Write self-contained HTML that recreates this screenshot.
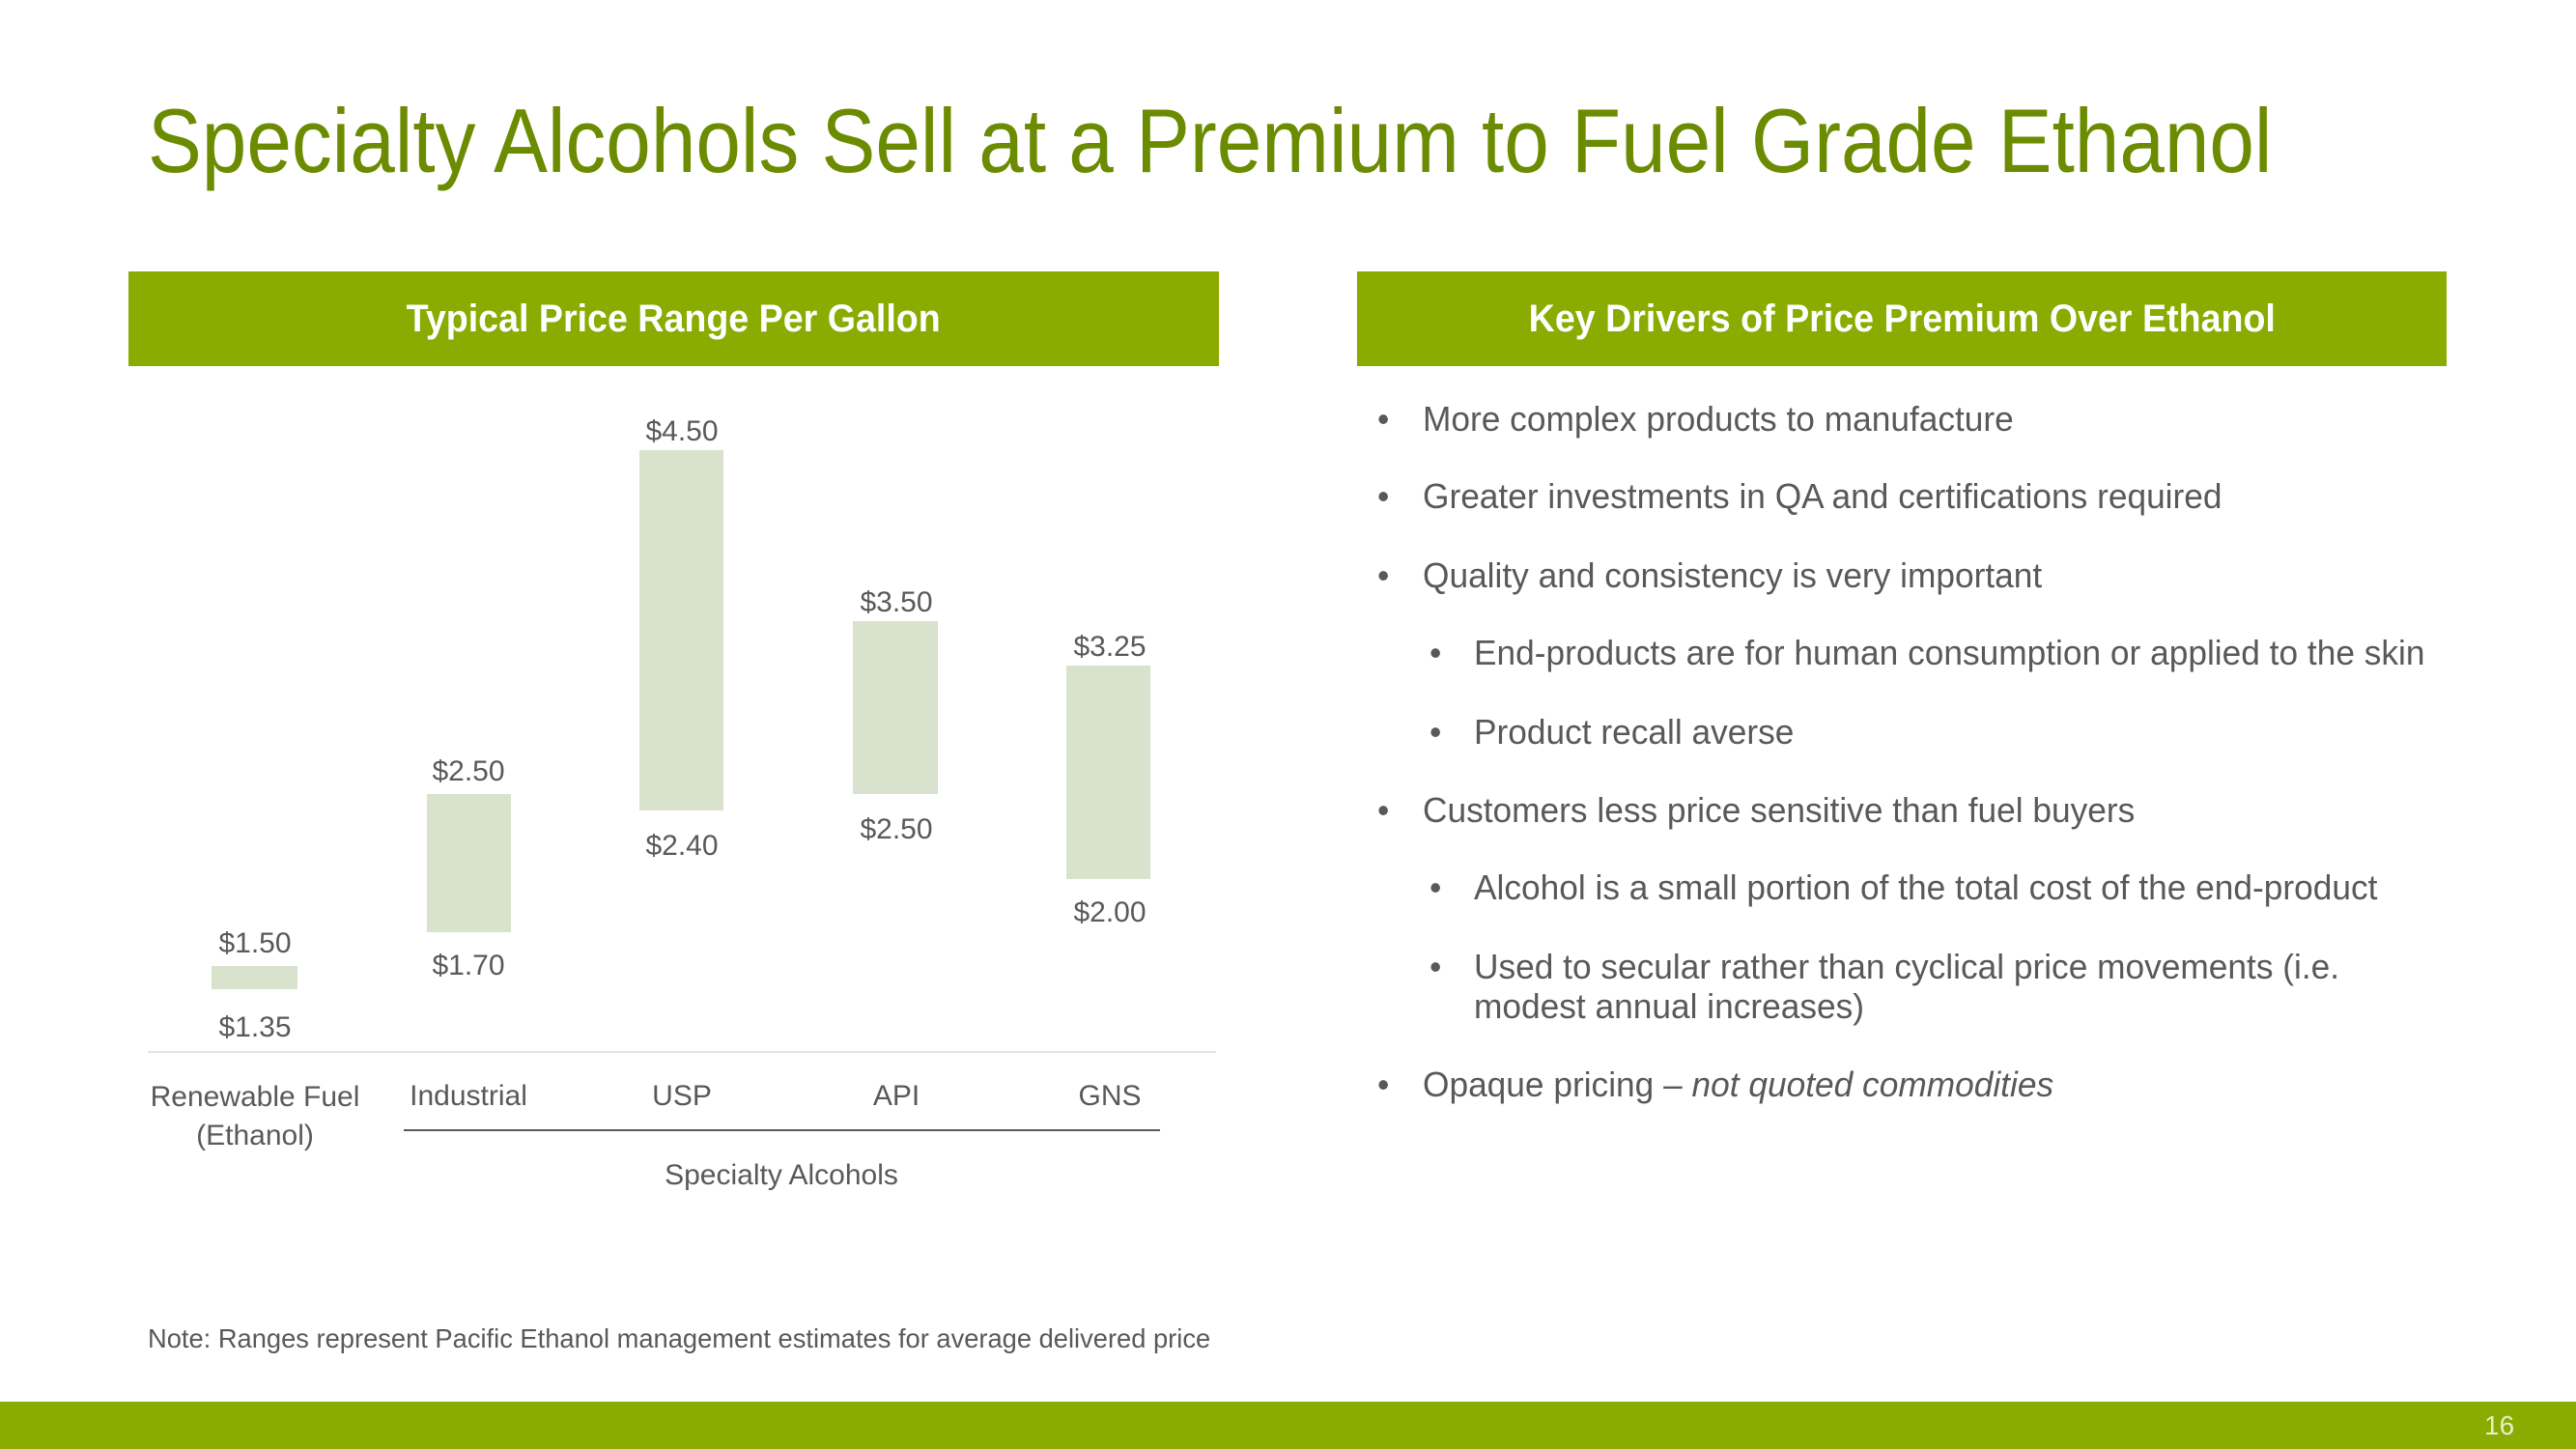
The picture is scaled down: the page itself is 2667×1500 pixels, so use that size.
<!DOCTYPE html>
<html><head><meta charset="utf-8"><style>
body{margin:0;width:2667px;height:1500px;background:#fff;position:relative;overflow:hidden;font-family:"Liberation Sans Narrow","Liberation Sans",sans-serif;color:#595959}
.a{position:absolute;white-space:nowrap}
.c{transform:translateX(-50%);text-align:center}
.bar{position:absolute;background:#d9e2cc}
.hdr{position:absolute;background:#8aab00;color:#fff;font-weight:bold;font-size:40px;text-align:center;line-height:98px;height:98px}
.hdr span{display:inline-block;transform:scaleX(0.94)}
.v{font-size:30px}
.b{font-size:36px;color:#595959;transform:scaleX(0.98);transform-origin:left}
</style></head><body>
<div class="a" style="left:153px;top:92px;font-size:94px;color:#6b8b00;transform:scaleX(0.89);transform-origin:left">Specialty Alcohols Sell at a Premium to Fuel Grade Ethanol</div>
<div class="hdr" style="left:133px;top:281px;width:1129px"><span>Typical Price Range Per Gallon</span></div>
<div class="hdr" style="left:1405px;top:281px;width:1128px"><span>Key Drivers of Price Premium Over Ethanol</span></div>

<div class="bar" style="left:219px;top:1000px;width:89px;height:24px"></div>
<div class="bar" style="left:442px;top:822px;width:87px;height:143px"></div>
<div class="bar" style="left:662px;top:466px;width:87px;height:373px"></div>
<div class="bar" style="left:883px;top:643px;width:88px;height:179px"></div>
<div class="bar" style="left:1104px;top:689px;width:87px;height:221px"></div>
<div class="a" style="left:153px;top:1088px;width:1106px;height:2px;background:#e4e4e4"></div>
<div class="a" style="left:418px;top:1169px;width:783px;height:2px;background:#595959"></div>

<div class="a c v" style="left:264px;top:960px">$1.50</div>
<div class="a c v" style="left:264px;top:1047px">$1.35</div>
<div class="a c v" style="left:485px;top:782px">$2.50</div>
<div class="a c v" style="left:485px;top:983px">$1.70</div>
<div class="a c v" style="left:706px;top:430px">$4.50</div>
<div class="a c v" style="left:706px;top:859px">$2.40</div>
<div class="a c v" style="left:928px;top:607px">$3.50</div>
<div class="a c v" style="left:928px;top:842px">$2.50</div>
<div class="a c v" style="left:1149px;top:653px">$3.25</div>
<div class="a c v" style="left:1149px;top:928px">$2.00</div>

<div class="a c v" style="left:264px;top:1116px;line-height:40px">Renewable Fuel<br>(Ethanol)</div>
<div class="a c v" style="left:485px;top:1118px">Industrial</div>
<div class="a c v" style="left:706px;top:1118px">USP</div>
<div class="a c v" style="left:928px;top:1118px">API</div>
<div class="a c v" style="left:1149px;top:1118px">GNS</div>
<div class="a c v" style="left:809px;top:1200px">Specialty Alcohols</div>
<div class="a" style="left:153px;top:1370px;font-size:28px;transform:scaleX(0.975);transform-origin:left">Note: Ranges represent Pacific Ethanol management estimates for average delivered price</div>

<div class="a b" style="left:1426px;top:413px">•</div><div class="a b" style="left:1473px;top:413px">More complex products to manufacture</div>
<div class="a b" style="left:1426px;top:493px">•</div><div class="a b" style="left:1473px;top:493px">Greater investments in QA and certifications required</div>
<div class="a b" style="left:1426px;top:575px">•</div><div class="a b" style="left:1473px;top:575px">Quality and consistency is very important</div>
<div class="a b" style="left:1480px;top:655px">•</div><div class="a b" style="left:1526px;top:655px">End-products are for human consumption or applied to the skin</div>
<div class="a b" style="left:1480px;top:737px">•</div><div class="a b" style="left:1526px;top:737px">Product recall averse</div>
<div class="a b" style="left:1426px;top:818px">•</div><div class="a b" style="left:1473px;top:818px">Customers less price sensitive than fuel buyers</div>
<div class="a b" style="left:1480px;top:898px">•</div><div class="a b" style="left:1526px;top:898px">Alcohol is a small portion of the total cost of the end-product</div>
<div class="a b" style="left:1480px;top:980px">•</div><div class="a b" style="left:1526px;top:980px;line-height:41px">Used to secular rather than cyclical price movements (i.e.<br>modest annual increases)</div>
<div class="a b" style="left:1426px;top:1102px">•</div><div class="a b" style="left:1473px;top:1102px">Opaque pricing – <i>not quoted commodities</i></div>

<div class="a" style="left:0;top:1451px;width:2667px;height:49px;background:#8aab00"></div>
<div class="a" style="left:2572px;top:1460px;font-size:28px;color:#e8efcc">16</div>
</body></html>
